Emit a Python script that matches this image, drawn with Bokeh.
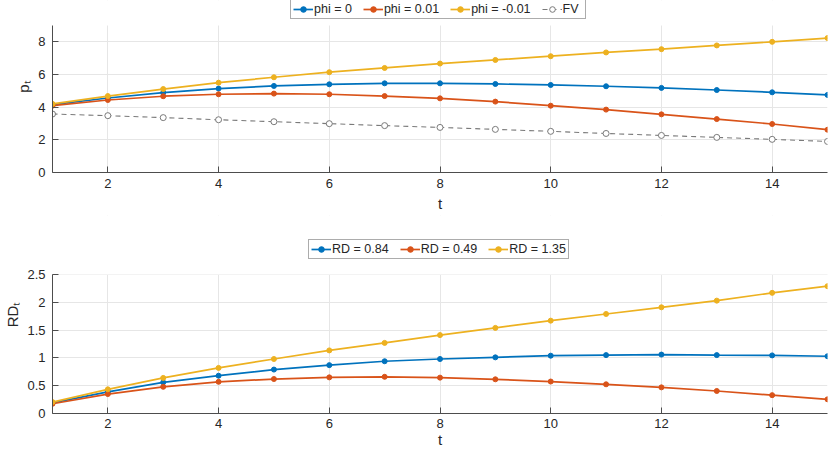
from bokeh.plotting import figure
from bokeh.models import Legend, LegendItem, FixedTicker, Range1d, BoxAnnotation
from bokeh.layouts import column
from bokeh.embed import file_html
from bokeh.resources import INLINE

# ---------------- data ----------------
t = list(range(1, 16))

p_phi_0 = [4.16, 4.56, 4.89, 5.14, 5.30, 5.40, 5.46, 5.46, 5.42, 5.36, 5.28, 5.18, 5.05, 4.91, 4.75]
p_phi_001 = [4.09, 4.44, 4.67, 4.79, 4.83, 4.79, 4.68, 4.54, 4.34, 4.09, 3.85, 3.56, 3.27, 2.97, 2.62]
p_phi_m001 = [4.20, 4.68, 5.11, 5.50, 5.83, 6.14, 6.40, 6.67, 6.89, 7.12, 7.35, 7.55, 7.78, 8.00, 8.23]
p_fv = [3.58, 3.48, 3.36, 3.23, 3.11, 2.99, 2.87, 2.76, 2.64, 2.52, 2.39, 2.27, 2.15, 2.03, 1.90]
top_labels = ["phi = 0", "phi = 0.01", "phi = -0.01", "FV"]

rd_084 = [0.19, 0.39, 0.56, 0.68, 0.79, 0.87, 0.94, 0.98, 1.01, 1.04, 1.05, 1.06, 1.05, 1.045, 1.03]
rd_049 = [0.175, 0.35, 0.48, 0.57, 0.62, 0.65, 0.66, 0.645, 0.615, 0.575, 0.525, 0.47, 0.405, 0.33, 0.255]
rd_135 = [0.205, 0.435, 0.64, 0.82, 0.98, 1.135, 1.27, 1.41, 1.54, 1.67, 1.79, 1.91, 2.03, 2.17, 2.29]
bottom_labels = ["RD = 0.84", "RD = 0.49", "RD = 1.35"]

x_ticks = [2, 4, 6, 8, 10, 12, 14]
top_y_ticks = [0, 2, 4, 6, 8]
top_y_max = 9
bottom_y_ticks = [0, 0.5, 1, 1.5, 2, 2.5]
bottom_y_max = 2.5

BLUE = "#0072BD"
RED = "#D95319"
YELLOW = "#EDB120"
GRAY = "#7a7a7a"
FONT = "Liberation Sans"
TXT = "#262626"


def style(p, yticks, ymax, ylabel, xlab_standoff, xaxis_label_standoff):
    p.outline_line_color = None
    p.background_fill_color = "white"
    p.border_fill_color = "white"
    for ax in (p.xaxis[0], p.yaxis[0]):
        ax.axis_line_color = "#4d4d4d"
        ax.axis_line_width = 1
        ax.major_tick_line_color = "#4d4d4d"
        ax.major_tick_in = 6
        ax.major_tick_out = 0
        ax.minor_tick_line_color = None
        ax.major_label_text_font = FONT
        ax.major_label_text_font_size = "13px"
        ax.major_label_text_color = TXT
        ax.axis_label_text_font = FONT
        ax.axis_label_text_font_size = "15px"
        ax.axis_label_text_font_style = "normal"
        ax.axis_label_text_color = TXT
    p.xaxis[0].ticker = FixedTicker(ticks=x_ticks)
    p.yaxis[0].ticker = FixedTicker(ticks=yticks)
    p.yaxis[0].bounds = (0, ymax)
    p.xaxis[0].axis_label = "t"
    p.xaxis[0].major_label_standoff = xlab_standoff
    p.xaxis[0].axis_label_standoff = xaxis_label_standoff
    p.yaxis[0].axis_label = ylabel
    p.yaxis[0].major_label_standoff = 7
    p.yaxis[0].axis_label_standoff = 3
    p.yaxis[0].major_label_overrides = {v: ("%g" % v) for v in yticks}
    p.xgrid.ticker = FixedTicker(ticks=x_ticks)
    p.ygrid.ticker = FixedTicker(ticks=yticks)
    p.xgrid.grid_line_color = "#e6e6e6"
    p.ygrid.grid_line_color = "#e6e6e6"
    # blank the strip above the axes box (legend area)
    p.add_layout(BoxAnnotation(bottom=ymax, fill_color="white", fill_alpha=1,
                               line_color=None, level="underlay"))


def make_legend(items, loc):
    lg = Legend(items=items, orientation="horizontal", location=loc)
    lg.label_text_font = FONT
    lg.label_text_font_size = "12.5px"
    lg.label_text_color = TXT
    lg.label_standoff = 1
    lg.label_height = 14
    lg.glyph_width = 20
    lg.glyph_height = 14
    lg.spacing = 11
    lg.padding = 2
    lg.margin = 0
    lg.border_line_color = "#5a5a5a"
    lg.border_line_width = 1
    lg.background_fill_color = "white"
    lg.background_fill_alpha = 1
    return lg


# ---------------- top plot ----------------
# frame: page y 0..172, data 0..9 occupies y 25..172
top_end = top_y_max * 172.0 / 147.0
p1 = figure(width=830, height=215, output_backend="svg", toolbar_location=None,
            x_range=Range1d(1, 15), y_range=Range1d(0, top_end),
            min_border_left=52, min_border_right=3, min_border_top=0, min_border_bottom=43)
style(p1, top_y_ticks, top_y_max, "pₜ", 6, 4)

top_series = [(p_phi_0, BLUE), (p_phi_001, RED), (p_phi_m001, YELLOW)]
items1 = []
for (ys, col), lab in zip(top_series, top_labels[:3]):
    r1 = p1.line(t, ys, line_color=col, line_width=1.7)
    r2 = p1.scatter(t, ys, size=5, fill_color=col, line_color=col, marker="circle")
    items1.append(LegendItem(label=lab, renderers=[r1, r2]))
rf1 = p1.line(t, p_fv, line_color=GRAY, line_width=1.1, line_dash="5 4")
rf2 = p1.scatter(t, p_fv, size=6, fill_color="white", line_color=GRAY, line_width=1, marker="circle")
items1.append(LegendItem(label=top_labels[3], renderers=[rf1, rf2]))
p1.add_layout(make_legend(items1, (238, 153)))

# ---------------- bottom plot ----------------
# frame: fig y 0..198, data 0..2.5 occupies y 59..198
bot_end = bottom_y_max * 198.0 / 139.0
p2 = figure(width=830, height=235, output_backend="svg", toolbar_location=None,
            x_range=Range1d(1, 15), y_range=Range1d(0, bot_end),
            min_border_left=52, min_border_right=3, min_border_top=0, min_border_bottom=37)
style(p2, bottom_y_ticks, bottom_y_max, "RDₜ", 5, 0)

bottom_series = [(rd_084, BLUE), (rd_049, RED), (rd_135, YELLOW)]
items2 = []
for (ys, col), lab in zip(bottom_series, bottom_labels):
    r1 = p2.line(t, ys, line_color=col, line_width=1.7)
    r2 = p2.scatter(t, ys, size=5, fill_color=col, line_color=col, marker="circle")
    items2.append(LegendItem(label=lab, renderers=[r1, r2]))
p2.add_layout(make_legend(items2, (256, 154)))

layout = column(p1, p2, spacing=0)
open("out.html", "w").write(file_html(layout, INLINE))
